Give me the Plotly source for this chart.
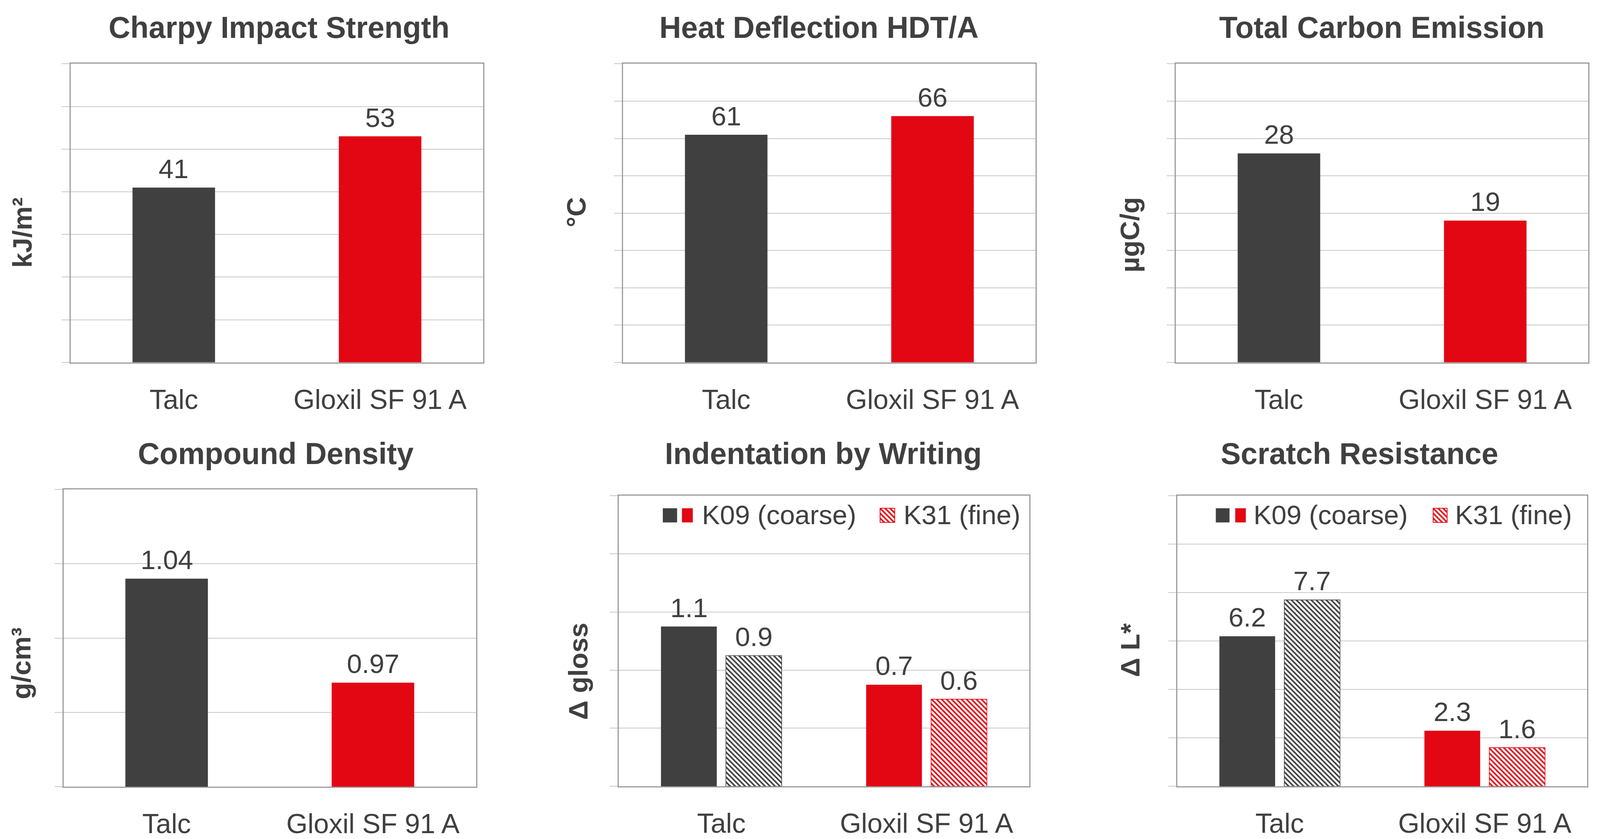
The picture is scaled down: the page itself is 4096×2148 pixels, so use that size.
import plotly.graph_objects as go

W, H = 4096, 2148
DARK = "#404040"
RED = "#E30613"
TEXT = "#404040"
GRID = "#C8C8C8"
FRAME = "#9C9C9C"
FONT = "Liberation Sans, Arial, sans-serif"

# ---------------- data ----------------
categories = ["Talc", "Gloxil SF 91 A"]
charpy = [41, 53]
hdt = [61, 66]
carbon = [28, 19]
density = [1.04, 0.97]
indent_k09 = [1.1, 0.7]
indent_k31 = [0.9, 0.6]
scratch_k09 = [6.2, 2.3]
scratch_k31 = [7.7, 1.6]

titles = ["Charpy Impact Strength", "Heat Deflection HDT/A", "Total Carbon Emission",
          "Compound Density", "Indentation by Writing", "Scratch Resistance"]
y_titles = ["kJ/m²", "°C", "µgC/g", "g/cm³", "Δ gloss", "Δ L*"]
y_ranges = [(0, 70), (0, 80), (0, 40), (0.9, 1.1), (0, 2), (0, 12)]
y_dticks = [10, 10, 5, 0.05, 0.4, 2]
legend_k09 = "K09 (coarse)"
legend_k31 = "K31 (fine)"

# ---------------- layout geometry (pixels) ----------------
plot_px = [
    (180.8, 1237.1, 164.7, 934.8),
    (1595.0, 2651.3, 164.7, 934.8),
    (3010.0, 4066.3, 164.7, 934.8),
    (162.5, 1218.8, 1262.7, 2029.0),
    (1584.0, 2634.5, 1278.8, 2028.4),
    (3013.6, 4063.3, 1278.8, 2028.4),
]
title_pos = [(714, 71), (2096, 71), (3537, 71), (706, 1170), (2107, 1170), (3480, 1170)]
ytitle_pos = [(58, 600), (1476, 548), (2892, 606), (54, 1711), (1480, 1732), (2894, 1677)]
BARGAP = 0.367
BARGROUPGAP = 0.141
LABEL_LIFT = 48  # px from bar top to label centre
HATCH_SIZE = 9
HATCH_SOLIDITY = 0.45

# legend geometry for charts 5, 6
leg = [
    dict(dark=(1696.8, 1733.4), red=(1745.8, 1773.6), t1=1794.9, hatch=(2253.0, 2290.4), t2=2311.0),
    dict(dark=(3112.5, 3147.6), red=(3162.2, 3189.3), t1=3206.9, hatch=(3668.8, 3704.7), t2=3722.9),
]
leg_y = (1311.0, 1347.6)
leg_text_y = 1328


def px_x(x):
    return x / W


def px_y(y):
    return 1 - y / H


def r(i, c):
    return c if i == 1 else f"{c}{i}"


def axn(i, c):
    return f"{c}axis" if i == 1 else f"{c}axis{i}"


fig = go.Figure()
annotations = []
label_font = dict(size=69, color=TEXT, family=FONT)


def add_labels(i, vals, xshift=0.0):
    for c, v in zip(categories, vals):
        annotations.append(dict(text=str(v), x=c, y=v, xref=r(i, "x"), yref=r(i, "y"),
                                xanchor="center", yanchor="middle", xshift=xshift,
                                yshift=LABEL_LIFT, showarrow=False, font=label_font))


single = [charpy, hdt, carbon, density]
for i, vals in enumerate(single, start=1):
    fig.add_trace(go.Bar(
        x=categories, y=vals, xaxis=r(i, "x"), yaxis=r(i, "y"),
        marker=dict(color=[DARK, RED], line=dict(width=0)),
        width=0.4, hoverinfo="skip", showlegend=False))
    add_labels(i, vals)

for i, (k09, k31) in [(5, (indent_k09, indent_k31)), (6, (scratch_k09, scratch_k31))]:
    fig.add_trace(go.Bar(
        x=categories, y=k09, xaxis=r(i, "x"), yaxis=r(i, "y"), offsetgroup="a",
        marker=dict(color=[DARK, RED], line=dict(width=0)),
        hoverinfo="skip", showlegend=False))
    fig.add_trace(go.Bar(
        x=categories, y=k31, xaxis=r(i, "x"), yaxis=r(i, "y"), offsetgroup="b",
        marker=dict(color="white", line=dict(width=1.6, color=[DARK, RED]),
                    pattern=dict(shape="\\", fgcolor=[DARK, RED], bgcolor="white",
                                 size=HATCH_SIZE, solidity=HATCH_SOLIDITY, fgopacity=1)),
        hoverinfo="skip", showlegend=False))
    x0, x1, _, _ = plot_px[i - 1]
    slot = (x1 - x0) / len(categories) * (1 - BARGAP) / 2
    add_labels(i, k09, -slot / 2)
    add_labels(i, k31, slot / 2)

layout = dict(
    width=W, height=H, margin=dict(l=0, r=0, t=0, b=0),
    paper_bgcolor="white", plot_bgcolor="white",
    barmode="group", bargap=BARGAP, bargroupgap=BARGROUPGAP,
    showlegend=False, font=dict(family=FONT, color=TEXT),
)

for i in range(1, 7):
    x0, x1, y0, y1 = plot_px[i - 1]
    layout[axn(i, "x")] = dict(
        domain=[px_x(x0), px_x(x1)], anchor=r(i, "y"), type="category",
        showline=True, mirror=True, linecolor=FRAME, linewidth=2.5,
        showgrid=False, ticks="", tickfont=dict(size=70, color=TEXT, family=FONT),
        ticklabelstandoff=32, fixedrange=True)
    lo, hi = y_ranges[i - 1]
    layout[axn(i, "y")] = dict(
        domain=[px_y(y1), px_y(y0)], anchor=r(i, "x"), range=[lo, hi],
        tick0=lo, dtick=y_dticks[i - 1],
        showline=True, mirror=True, linecolor=FRAME, linewidth=2.5,
        showgrid=True, gridcolor=GRID, gridwidth=2, zeroline=False,
        ticks="outside", ticklen=20, tickwidth=2, tickcolor=GRID,
        showticklabels=False, fixedrange=True)

# legend swatches
shapes = []
for j, lg in enumerate(leg):
    i = 7 + j
    hx0, hx1 = lg["hatch"]
    layout[axn(i, "x")] = dict(domain=[px_x(hx0), px_x(hx1)], anchor=r(i, "y"),
                               range=[-0.5, 0.5], visible=False, fixedrange=True)
    layout[axn(i, "y")] = dict(domain=[px_y(leg_y[1]), px_y(leg_y[0])], anchor=r(i, "x"),
                               range=[0, 1], visible=False, fixedrange=True)
    fig.add_trace(go.Bar(
        x=[0], y=[1], width=1, xaxis=r(i, "x"), yaxis=r(i, "y"),
        marker=dict(color="white", line=dict(width=0),
                    pattern=dict(shape="\\", fgcolor=RED, bgcolor="white",
                                 size=HATCH_SIZE, solidity=HATCH_SOLIDITY, fgopacity=1)),
        hoverinfo="skip", showlegend=False))
    shapes.append(dict(type="rect", xref="paper", yref="paper",
                       x0=px_x(hx0), x1=px_x(hx1), y0=px_y(leg_y[1]), y1=px_y(leg_y[0]),
                       line=dict(color=RED, width=2), fillcolor="rgba(0,0,0,0)"))
    for key, col in (("dark", DARK), ("red", RED)):
        a, b = lg[key]
        shapes.append(dict(type="rect", xref="paper", yref="paper",
                           x0=px_x(a), x1=px_x(b), y0=px_y(leg_y[1]), y1=px_y(leg_y[0]),
                           line=dict(width=0), fillcolor=col))
    for tx, txt in ((lg["t1"], legend_k09), (lg["t2"], legend_k31)):
        annotations.append(dict(text=txt, xref="paper", yref="paper", x=px_x(tx), y=px_y(leg_text_y),
                                xanchor="left", yanchor="middle", showarrow=False,
                                font=dict(size=69, color=TEXT, family=FONT)))

for i in range(6):
    tx, ty = title_pos[i]
    annotations.append(dict(text=f"<b>{titles[i]}</b>", xref="paper", yref="paper",
                            x=px_x(tx), y=px_y(ty), xanchor="center", yanchor="middle",
                            showarrow=False, font=dict(size=77, color=TEXT, family=FONT)))
    yx, yy = ytitle_pos[i]
    annotations.append(dict(text=f"<b>{y_titles[i]}</b>", xref="paper", yref="paper",
                            x=px_x(yx), y=px_y(yy), xanchor="center", yanchor="middle",
                            textangle=-90, showarrow=False,
                            font=dict(size=69, color=TEXT, family=FONT)))

layout["shapes"] = shapes
layout["annotations"] = annotations
fig.update_layout(**layout)
fig.write_html("out.html", config={"displayModeBar": False},
               post_script="document.body.style.margin='0';document.body.style.overflow='hidden';")
